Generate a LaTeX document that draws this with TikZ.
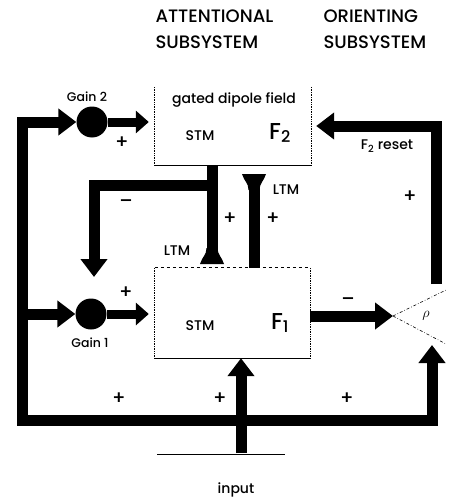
\documentclass[tikz,border=0pt]{standalone}
\usepackage{fontspec}
\setmainfont{Poppins}[UprightFont=* Medium]
\usetikzlibrary{arrows.meta,positioning,calc}

\tikzset{
  bell/.pic={\fill (-12,0) .. controls (-10,-7) and (-5.5,-9) .. (-5.5,-16) -- (5.5,-16) .. controls (5.5,-9) and (10,-7) .. (12,0) -- cycle;}
}

\begin{document}
\begin{tikzpicture}[x=1pt, y=-1pt,
  fat/.style={line width=11pt},
  fatarrow/.style={line width=11pt, -{Triangle[length=18pt,width=26pt]}},
  thinarrow/.style={line width=9pt, -{Triangle[length=13pt,width=22pt]}},
  gain/.style={circle, fill, minimum size=31pt, inner sep=0pt},
  field/.style={minimum width=156pt, minimum height=78pt, inner sep=0pt},
  head/.style={font=\fontsize{18}{26}\selectfont, align=left, anchor=north west},
  lbl/.style={font=\fontsize{14}{16}\selectfont},
  small/.style={font=\fontsize{12.5}{15}\selectfont},
  bigf/.style={font=\fontsize{23}{24}\selectfont},
  sign/.style={font=\fontsize{19}{19}\selectfont},
  edge/.style={line width=0.7pt, densely dotted},
]
\useasboundingbox (0,0) rectangle (451,503);

% headings
\node[head] (att) at (152,6) {ATTENTIONAL\\SUBSYSTEM};
\node[head] (ori) at (320,6) {ORIENTING\\SUBSYSTEM};

% the two fields
\node[field] (f2) at (233,126) {};
\node[field, minimum width=155pt, minimum height=90pt] (f1) at (232.5,313) {};
\draw[edge] (f2.north west) -- (f2.south west);
\draw[edge] (f2.north east) -- (f2.south east);
\draw[line width=0.9pt] (f2.south west) -- (f2.south east);
\draw[line width=0.8pt, dashed] (f1.north west) -- (f1.north east);
\draw[edge] (f1.north west) -- (f1.south west);
\draw[edge] (f1.north east) -- (f1.south east);
\draw[line width=0.9pt] (f1.south west) -- (f1.south east);

\node[lbl] (gdf) at (234,100) {gated dipole field};
\node[lbl] (stm2) at (200,136) {STM};
\node[bigf] (lab2) at (280,133) {F\textsubscript{2}};
\node[lbl] (stm1) at (200,326) {STM};
\node[bigf] (lab1) at (280,323) {F\textsubscript{1}};

% gain control
\node[gain] (g2) at (92,122) {};
\node[gain] (g1) at (91,314) {};
\node[small] (g2l) at (87,97) {Gain 2};
\node[small] (g1l) at (90,343) {Gain 1};

% nonspecific feedback loop
\coordinate (bl) at (22,420);
\coordinate (br) at (432,420);
\coordinate (rtip) at (432,345);
\draw[fat, line cap=rect] (bl) -- (br);
\draw[fatarrow] (bl) |- (g2);
\draw[fatarrow] (bl |- g1) -- (g1);
\draw[fatarrow] (br) -- (rtip);
\draw[thinarrow, shorten >=6pt] (g2) -- (g2 -| f2.west);
\draw[thinarrow, shorten >=6pt] (g1) -- (g1 -| f1.west);

% reset
\coordinate (rt) at (436,284);
\coordinate (rho) at (393,316);
\coordinate (rhoa) at (446,290);
\coordinate (rhob) at (446,344);
\draw[fatarrow, shorten >=5pt] (rt) |- (f2.east);
\draw[fatarrow] (rho -| f1.east) -- (rho);
\draw[line width=0.6pt, dash dot] (rho) -- (rhoa);
\draw[line width=0.6pt, dash dot] (rho) -- (rhob);
\node[font=\Large] (rhol) at (426,316) {$\rho$};

% top-down and bottom-up pathways
\coordinate (ltmlow) at (212,264);
\coordinate (ltmup) at (254,174);
\coordinate (split) at (212,185);
\coordinate (dn) at (94,277);
\draw[fat] (f2.south -| ltmlow) -- ($(ltmlow)+(0,-10)$);
\pic at (ltmlow) {bell};
\draw[fatarrow] (split) -| (dn);
\draw[fat] ($(ltmup)+(0,10)$) -- (ltmup |- f1.north);
\pic[yscale=-1] at (ltmup) {bell};
\node[lbl] (ltm1) at (177,251) {LTM};
\node[lbl] (ltm2) at (286,190) {LTM};

% input
\coordinate (inb) at (241,453);
\coordinate (inl) at (157,454);
\coordinate (inr) at (285,454);
\draw[line width=0.8pt] (inl) -- (inr);
\draw[fatarrow] (inb) -- (inb |- f1.south);
\node[lbl] (inp) at (236,490) {input};

% signs
\node[sign] at (122,143) {+};
\node[lbl] (rst) at (387,146) {F\textsubscript{2} reset};
\node[sign] at (410,197) {+};
\node[sign] at (126,204) {–};
\node[sign] at (230,219) {+};
\node[sign] at (273,219) {+};
\node[sign] at (126,293) {+};
\node[sign] at (348,302) {–};
\node[sign] at (119,399) {+};
\node[sign] at (220,399) {+};
\node[sign] at (347,399) {+};
\end{tikzpicture}
\end{document}
